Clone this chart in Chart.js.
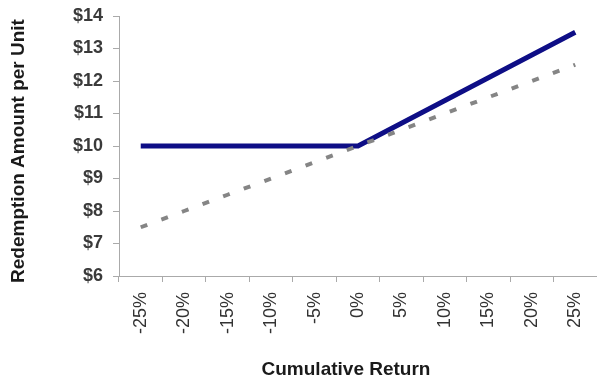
<!DOCTYPE html>
<html>
<head>
<meta charset="utf-8">
<script src="https://cdn.jsdelivr.net/npm/chart.js@4/dist/chart.umd.min.js"></script>
<style>
  html, body { margin: 0; padding: 0; background: #fff; }
  #wrap { width: 597px; height: 383px; }
</style>
</head>
<body>
<div id="wrap"><canvas id="c" width="597" height="383"></canvas></div>
<script>
// Cumulative return categories
const returns = ['-25%', '-20%', '-15%', '-10%', '-5%', '0%', '5%', '10%', '15%', '20%', '25%'];
// Redemption amount per unit of the note (floored at $10, 1.4x upside)
const noteAmount = [10, 10, 10, 10, 10, 10, 10.7, 11.4, 12.1, 12.8, 13.5];
// Direct investment in the underlying
const directAmount = [7.5, 8, 8.5, 9, 9.5, 10, 10.5, 11, 11.5, 12, 12.5];
// Y axis range
const yMin = 6, yMax = 14, yStep = 1;
// Axis titles
const xTitle = 'Cumulative Return';
const yTitle = 'Redemption Amount per Unit';

const axisColor = '#aaaaaa';
const fontFamily = '"Liberation Sans", Arial, Helvetica, sans-serif';

// Axis titles, placed relative to the chart area
const axisTitles = {
  id: 'axisTitles',
  afterDraw(chart) {
    const { ctx, chartArea } = chart;
    ctx.save();
    ctx.fillStyle = '#1a1a1a';
    ctx.font = 'bold 19px ' + fontFamily;
    ctx.textAlign = 'center';
    ctx.textBaseline = 'middle';
    ctx.fillText(xTitle, chartArea.left + 227, 370);
    ctx.translate(19, chartArea.top + 135);
    ctx.rotate(-Math.PI / 2);
    ctx.fillText(yTitle, 0, 0);
    ctx.restore();
  }
};

new Chart(document.getElementById('c'), {
  type: 'line',
  data: {
    labels: returns,
    datasets: [
      {
        label: 'Direct',
        data: directAmount,
        borderColor: '#858585',
        borderWidth: 4,
        borderDash: [7, 15],
        borderCapStyle: 'butt',
        pointRadius: 0,
        tension: 0,
        fill: false
      },
      {
        label: 'Note',
        data: noteAmount,
        borderColor: '#0e0e86',
        borderWidth: 5,
        borderCapStyle: 'butt',
        pointRadius: 0,
        tension: 0,
        fill: false
      }
    ]
  },
  plugins: [axisTitles],
  options: {
    responsive: false,
    animation: false,
    devicePixelRatio: 1,
    layout: { padding: { top: 16, right: 0, bottom: 0, left: 0 } },
    plugins: { legend: { display: false }, tooltip: { enabled: false } },
    scales: {
      x: {
        offset: true,
        afterFit: s => { s.height = 107; s.paddingLeft = 0; s.paddingRight = 0; },
        grid: {
          offset: true,
          drawOnChartArea: false,
          drawTicks: true,
          tickLength: 6,
          color: axisColor
        },
        border: { color: axisColor, width: 1 },
        ticks: {
          minRotation: 90,
          maxRotation: 90,
          color: '#333',
          font: { family: fontFamily, size: 18 },
          padding: 10
        }
      },
      y: {
        min: yMin,
        max: yMax,
        afterFit: s => { s.width = 119; s.paddingTop = 0; s.paddingBottom = 0; },
        grid: {
          drawOnChartArea: false,
          drawTicks: true,
          tickLength: 6,
          color: axisColor
        },
        border: { color: axisColor, width: 1 },
        ticks: {
          stepSize: yStep,
          color: '#3a3a3a',
          font: { family: fontFamily, size: 18, weight: 'bold' },
          padding: 10,
          callback: v => '$' + v
        }
      }
    }
  }
});
</script>
</body>
</html>
